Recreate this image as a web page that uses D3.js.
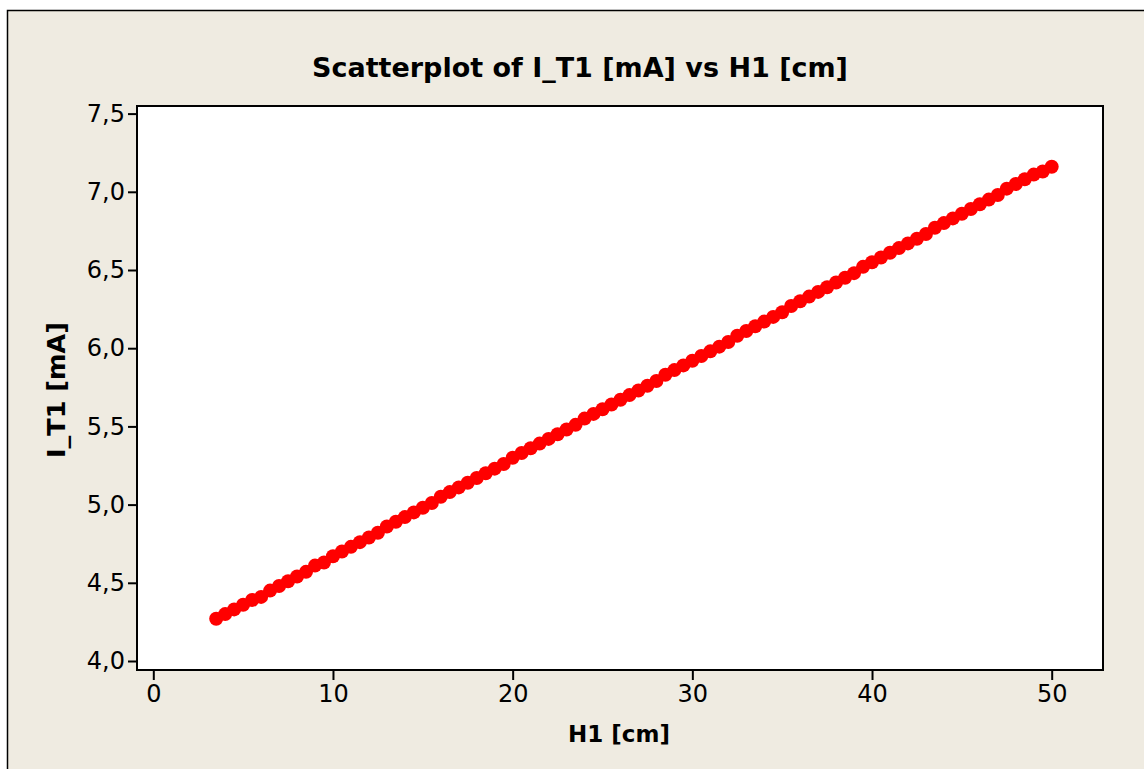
<!DOCTYPE html>
<html>
<head>
<meta charset="utf-8">
<script src="https://cdn.jsdelivr.net/npm/d3@7"></script>
<style>
  body { margin: 0; background: #ffffff; }
  text { font-family: Tahoma, "DejaVu Sans", sans-serif; fill: #000; }
</style>
</head>
<body>
<svg id="chart"></svg>
<script>
// data
const h1 = [3.5, 4.0, 4.5, 5.0, 5.5, 6.0, 6.5, 7.0, 7.5, 8.0, 8.5, 9.0, 9.5, 10.0,
  10.5, 11.0, 11.5, 12.0, 12.5, 13.0, 13.5, 14.0, 14.5, 15.0, 15.5, 16.0, 16.5, 17.0,
  17.5, 18.0, 18.5, 19.0, 19.5, 20.0, 20.5, 21.0, 21.5, 22.0, 22.5, 23.0, 23.5, 24.0,
  24.5, 25.0, 25.5, 26.0, 26.5, 27.0, 27.5, 28.0, 28.5, 29.0, 29.5, 30.0, 30.5, 31.0,
  31.5, 32.0, 32.5, 33.0, 33.5, 34.0, 34.5, 35.0, 35.5, 36.0, 36.5, 37.0, 37.5, 38.0,
  38.5, 39.0, 39.5, 40.0, 40.5, 41.0, 41.5, 42.0, 42.5, 43.0, 43.5, 44.0, 44.5, 45.0,
  45.5, 46.0, 46.5, 47.0, 47.5, 48.0, 48.5, 49.0, 49.5, 50.0];
const iT1 = [4.27, 4.30, 4.33, 4.36, 4.39, 4.41, 4.45, 4.48, 4.51, 4.54, 4.57, 4.61, 4.63, 4.67,
  4.70, 4.73, 4.76, 4.79, 4.82, 4.86, 4.89, 4.92, 4.95, 4.98, 5.01, 5.05, 5.08, 5.11,
  5.14, 5.17, 5.20, 5.23, 5.26, 5.30, 5.33, 5.36, 5.39, 5.42, 5.45, 5.48, 5.51, 5.55,
  5.58, 5.61, 5.64, 5.67, 5.70, 5.73, 5.76, 5.79, 5.83, 5.86, 5.89, 5.92, 5.95, 5.98,
  6.01, 6.04, 6.08, 6.11, 6.14, 6.17, 6.20, 6.23, 6.27, 6.30, 6.33, 6.36, 6.39, 6.42,
  6.45, 6.48, 6.52, 6.55, 6.58, 6.61, 6.64, 6.67, 6.70, 6.73, 6.77, 6.80, 6.83, 6.86,
  6.89, 6.92, 6.95, 6.98, 7.02, 7.05, 7.08, 7.11, 7.13, 7.16];
const xTicks = [0, 10, 20, 30, 40, 50];
const yTicks = [4.0, 4.5, 5.0, 5.5, 6.0, 6.5, 7.0, 7.5];

const W = 1144, H = 769;
const svg = d3.select("#chart").attr("width", W).attr("height", H);

// beige frame
svg.append("rect")
  .attr("x", 7.5).attr("y", 10.5)
  .attr("width", W).attr("height", H)
  .attr("fill", "#efebe1")
  .attr("stroke", "#000").attr("stroke-width", 1.5);

// plot area
const plot = { left: 137, top: 106, right: 1103, bottom: 670 };
svg.append("rect")
  .attr("x", plot.left).attr("y", plot.top)
  .attr("width", plot.right - plot.left).attr("height", plot.bottom - plot.top)
  .attr("fill", "#fff");

const x = d3.scaleLinear().domain([0, 50]).range([153.3, 1051.7]);
const y = d3.scaleLinear().domain([4.0, 7.5]).range([661, 113.6]);

const comma = d3.formatLocale({ decimal: ",", thousands: ".", grouping: [3], currency: ["", ""] });

const xAxis = svg.append("g")
  .attr("transform", `translate(0,${plot.bottom})`)
  .call(d3.axisBottom(x).tickValues(xTicks).tickSizeOuter(0).tickSize(10).tickPadding(5).tickFormat(d3.format("d")));
const yAxis = svg.append("g")
  .attr("transform", `translate(${plot.left},0)`)
  .call(d3.axisLeft(y).tickValues(yTicks).tickSizeOuter(0).tickSize(9).tickPadding(3).tickFormat(comma.format(".1f")));

[xAxis, yAxis].forEach(g => {
  g.select(".domain").remove();
  g.selectAll(".tick line").attr("stroke", "#000").attr("stroke-width", 2);
  g.selectAll(".tick text").attr("font-size", 24).attr("font-family", null);
});

// points
svg.append("g")
  .selectAll("circle")
  .data(h1.map((d, i) => [d, iT1[i]]))
  .enter()
  .append("circle")
  .attr("cx", d => x(d[0]))
  .attr("cy", d => y(d[1]))
  .attr("r", 7)
  .attr("fill", "#ff0000");

// plot border on top
svg.append("rect")
  .attr("x", plot.left).attr("y", plot.top)
  .attr("width", plot.right - plot.left).attr("height", plot.bottom - plot.top)
  .attr("fill", "none")
  .attr("stroke", "#000").attr("stroke-width", 2);

// title, sized to fit the original width
const title = svg.append("text")
  .attr("x", 580).attr("y", 77)
  .attr("text-anchor", "middle")
  .attr("font-weight", "bold")
  .attr("font-size", 26)
  .text("Scatterplot of I_T1 [mA] vs H1 [cm]");
const tw = title.node().getComputedTextLength();
title.attr("font-size", 26 * 536 / tw);

svg.append("text")
  .attr("x", 619).attr("y", 742)
  .attr("text-anchor", "middle")
  .attr("font-weight", "bold")
  .attr("font-size", 23)
  .text("H1 [cm]");

const ylab = svg.append("text")
  .attr("transform", "translate(65,390) rotate(-90)")
  .attr("text-anchor", "middle")
  .attr("font-weight", "bold")
  .attr("font-size", 22)
  .text("I_T1 [mA]");
const yw = ylab.node().getComputedTextLength();
ylab.attr("font-size", Math.min(26, 22 * 136 / yw));
</script>
</body>
</html>
